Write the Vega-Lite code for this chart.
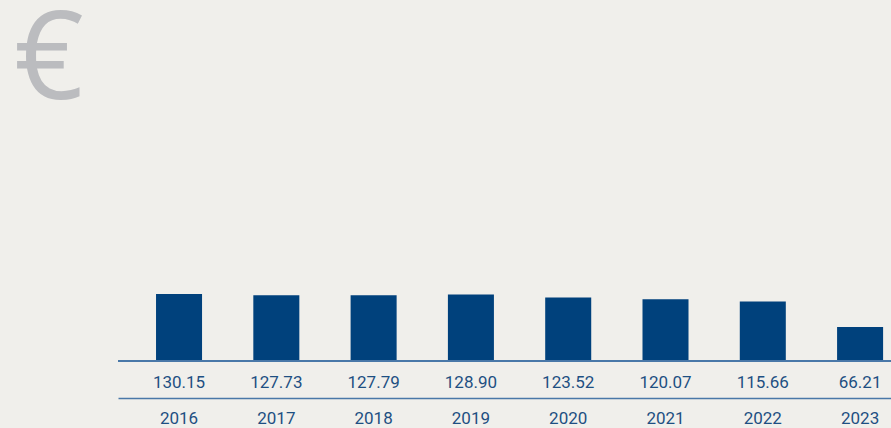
{
  "$schema": "https://vega.github.io/schema/vega-lite/v6.json",
  "width": 773,
  "height": 361,
  "autosize": {"type": "none"},
  "padding": {"left": 118, "top": 0, "right": 0, "bottom": 67},
  "background": "#f0efeb",
  "config": {"view": {"stroke": null}, "font": "Roboto"},
  "title": {
    "text": "€",
    "anchor": "start",
    "orient": "top",
    "frame": "group",
    "fontSize": 122,
    "font": "Open Sans",
    "fontWeight": 400,
    "color": "#bbbcbf",
    "baseline": "alphabetic",
    "offset": 0,
    "dx": -104,
    "dy": 221
  },
  "data": {
    "values": [
      {"year": "2016", "value": 130.15, "label": "130.15"},
      {"year": "2017", "value": 127.73, "label": "127.73"},
      {"year": "2018", "value": 127.79, "label": "127.79"},
      {"year": "2019", "value": 128.90, "label": "128.90"},
      {"year": "2020", "value": 123.52, "label": "123.52"},
      {"year": "2021", "value": 120.07, "label": "120.07"},
      {"year": "2022", "value": 115.66, "label": "115.66"},
      {"year": "2023", "value": 66.21, "label": "66.21"}
    ]
  },
  "encoding": {
    "x": {
      "field": "year",
      "type": "nominal",
      "sort": null,
      "scale": {"paddingInner": 0.527, "paddingOuter": 0.236, "align": 0.828},
      "axis": {
        "title": null,
        "orient": "bottom",
        "offset": 37,
        "domainColor": "#4a78a8",
        "domainWidth": 1.5,
        "ticks": false,
        "labelAngle": 0,
        "labelPadding": 12,
        "labelBaseline": "top",
        "labelFontSize": 17,
        "labelColor": "#1e4f82",
        "labelFont": "Roboto"
      }
    }
  },
  "layer": [
    {
      "mark": {"type": "bar", "color": "#00417c"},
      "encoding": {
        "y": {
          "field": "value",
          "type": "quantitative",
          "scale": {"domain": [0, 701], "nice": false},
          "axis": null
        }
      }
    },
    {
      "mark": {"type": "text", "dy": 22, "baseline": "middle", "fontSize": 17, "color": "#1e4f82", "font": "Roboto"},
      "encoding": {
        "y": {"datum": 0, "type": "quantitative"},
        "text": {"field": "label"}
      }
    },
    {
      "mark": {"type": "rule", "color": "#4a78a8", "strokeWidth": 1.5},
      "encoding": {
        "y": {"datum": 0, "type": "quantitative"},
        "x": null
      }
    }
  ]
}
